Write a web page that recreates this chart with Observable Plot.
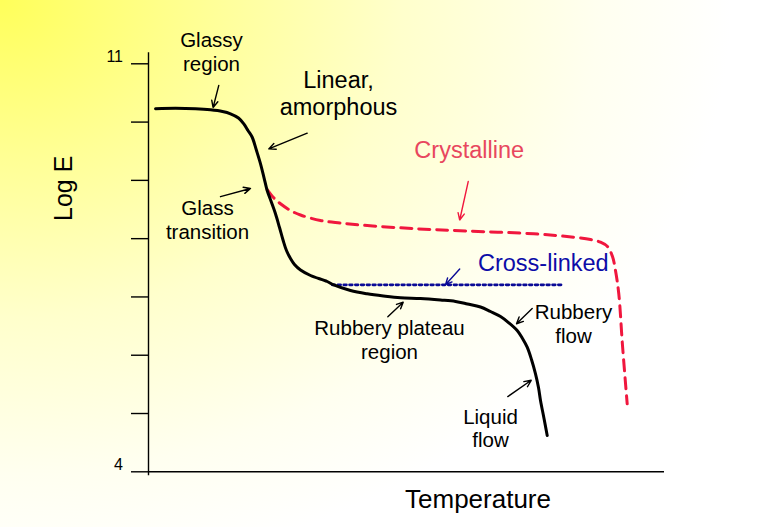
<!DOCTYPE html>
<html>
<head>
<meta charset="utf-8">
<script src="https://cdn.jsdelivr.net/npm/d3@7"></script>
<script src="https://cdn.jsdelivr.net/npm/@observablehq/plot@0.6"></script>
<style>
  html, body { margin: 0; padding: 0; }
  body {
    width: 770px; height: 527px; overflow: hidden;
    background: radial-gradient(ellipse 95% 110% at 0% 0%, #ffff5a 0%, #ffff96 28%, #ffffcc 55%, #fffff0 82%, #ffffff 100%);
    font-family: "Liberation Sans", Arial, sans-serif;
  }
</style>
</head>
<body>
<div id="chart"></div>
<script>
// ---- Data (Temperature in arbitrary units 0–100, Log E) ----
const amorphousT = [1.36, 5.23, 9.11, 12.02, 14.34, 15.89, 17.44, 18.47, 19.28, 20.10, 20.93, 21.71, 22.38, 23.00, 23.84, 24.61, 25.39, 26.10, 26.74, 27.52, 28.29, 29.46, 31.40, 34.63, 35.91, 39.15, 42.38, 45.54, 48.84, 52.71, 56.59, 59.50, 61.82, 64.34, 66.28, 68.22, 69.77, 71.45, 72.48, 73.39, 74.22, 75.00, 75.58, 75.97, 76.65, 77.27];
const amorphousLogE = [10.228, 10.236, 10.228, 10.210, 10.181, 10.142, 10.070, 9.970, 9.855, 9.740, 9.512, 9.284, 9.049, 8.826, 8.620, 8.426, 8.191, 7.968, 7.797, 7.659, 7.556, 7.462, 7.368, 7.265, 7.205, 7.110, 7.054, 7.016, 6.985, 6.973, 6.947, 6.922, 6.879, 6.827, 6.750, 6.664, 6.561, 6.424, 6.287, 6.138, 5.927, 5.681, 5.446, 5.223, 4.914, 4.623];

const crystallineT = [23.00, 24.22, 25.58, 27.52, 29.46, 33.33, 37.21, 42.38, 52.07, 61.76, 74.67, 82.42, 85.66, 87.60, 88.95, 89.92, 90.50, 91.14, 91.86, 92.77];
const crystallineLogE = [8.843, 8.706, 8.598, 8.483, 8.406, 8.311, 8.268, 8.225, 8.169, 8.131, 8.083, 8.025, 7.985, 7.939, 7.865, 7.694, 7.453, 7.054, 6.167, 5.167];

const crossLinkedT = [35.6, 80.5];
const crossLinkedLogE = [7.208, 7.208];

const yTicks = [4, 5, 6, 7, 8, 9, 10, 11];
const yTickLabels = ["4", "", "", "", "", "", "", "11"];

// Annotations: text, x, y
const smallNoteText = ["Glassy\nregion", "Glass\ntransition", "Rubbery plateau\nregion", "Rubbery\nflow", "Liquid\nflow"];
const smallNoteX = [12.21, 11.43, 46.71, 82.36, 66.28];
const smallNoteY = [11.209, 8.328, 6.266, 6.544, 4.751];

const bigNoteText = ["Linear,\namorphous"];
const bigNoteX = [36.82];
const bigNoteY = [10.504];

const crystallineLabel = ["Crystalline"], crystallineLabelX = [62.15], crystallineLabelY = [9.521];
const crossLinkedLabel = ["Cross-linked"], crossLinkedLabelX = [76.51], crossLinkedLabelY = [7.577];

const xAxisLabel = ["Temperature"], xAxisLabelX = [63.86];
const yAxisLabel = ["Log E"], yAxisLabelY = [8.863];

// Arrows (from -> to)
const blackArrowX1 = [13.62, 30.76, 13.95, 46.38, 74.36, 69.63];
const blackArrowY1 = [10.63, 9.81, 8.72, 6.66, 6.80, 5.29];
const blackArrowX2 = [12.52, 23.31, 19.77, 49.36, 71.32, 74.17];
const blackArrowY2 = [10.25, 9.54, 8.86, 6.91, 6.54, 5.57];
const redArrow = {x1: [61.96], y1: [8.98], x2: [60.31], y2: [8.32]};
const blueArrow = {x1: [60.31], y1: [7.48], x2: [57.56], y2: [7.21]};

// ---- Build tables ----
const amorphous = amorphousT.map((t, i) => ({t, e: amorphousLogE[i]}));
const crystalline = crystallineT.map((t, i) => ({t, e: crystallineLogE[i]}));
const crossLinked = crossLinkedT.map((t, i) => ({t, e: crossLinkedLogE[i]}));
const smallNotes = smallNoteText.map((text, i) => ({text, x: smallNoteX[i], y: smallNoteY[i]}));
const bigNotes = bigNoteText.map((text, i) => ({text, x: bigNoteX[i], y: bigNoteY[i]}));
const blackArrows = blackArrowX1.map((x1, i) => ({x1, y1: blackArrowY1[i], x2: blackArrowX2[i], y2: blackArrowY2[i]}));
const toRows = o => o.x1.map((x1, i) => ({x1, y1: o.y1[i], x2: o.x2[i], y2: o.y2[i]}));
const tickRows = yTicks.map((v, i) => ({v, label: yTickLabels[i]}));

const FONT = "'Liberation Sans', Arial, sans-serif";
const RED = "#f0173e";
const BLUE = "#0a0a96";

const chart = Plot.plot({
  width: 770,
  height: 527,
  marginLeft: 148,
  marginRight: 106,
  marginTop: 63.3,
  marginBottom: 55.7,
  style: {background: "transparent", fontFamily: FONT, overflow: "visible", color: "#000"},
  x: {domain: [0, 100], axis: null},
  y: {domain: [4, 11], axis: null},
  marks: [
    // axes
    Plot.ruleX([0], {stroke: "#000", strokeWidth: 1.4, insetTop: -11, insetBottom: -4}),
    Plot.ruleY([4], {stroke: "#000", strokeWidth: 1.4}),
    Plot.axisY({ticks: yTicks, tickSize: 17, fill: "none", stroke: "#000", strokeWidth: 1.4, label: null}),
    Plot.text(tickRows, {y: "v", text: "label", frameAnchor: "left", dx: -25.5, dy: -6.5, textAnchor: "end", lineAnchor: "middle", fontSize: 16, fill: "#000"}),
    Plot.text(xAxisLabel, {x: xAxisLabelX, text: d => d, frameAnchor: "bottom", dy: 28, textAnchor: "middle", lineAnchor: "middle", fontSize: 26, fill: "#000"}),
    Plot.text(yAxisLabel, {y: yAxisLabelY, text: d => d, frameAnchor: "left", dx: -85, rotate: -90, textAnchor: "middle", lineAnchor: "middle", fontSize: 25, fill: "#000"}),

    // curves
    Plot.line(crossLinked, {x: "t", y: "e", stroke: BLUE, strokeWidth: 2.8, strokeDasharray: "2.6,3.2"}),
    Plot.line(crystalline, {x: "t", y: "e", stroke: RED, strokeWidth: 3, strokeDasharray: "11,7", curve: "catmull-rom"}),
    Plot.line(amorphous, {x: "t", y: "e", stroke: "#000", strokeWidth: 3, curve: "catmull-rom"}),

    // arrows
    Plot.arrow(blackArrows, {x1: "x1", y1: "y1", x2: "x2", y2: "y2", stroke: "#000", strokeWidth: 1.4, headLength: 8, headAngle: 50}),
    Plot.arrow(toRows(redArrow), {x1: "x1", y1: "y1", x2: "x2", y2: "y2", stroke: RED, strokeWidth: 1.4, headLength: 8, headAngle: 50}),
    Plot.arrow(toRows(blueArrow), {x1: "x1", y1: "y1", x2: "x2", y2: "y2", stroke: BLUE, strokeWidth: 1.4, headLength: 8, headAngle: 50}),

    // annotations
    Plot.text(smallNotes, {x: "x", y: "y", text: "text", fontSize: 20.5, lineHeight: 1.15, fill: "#000"}),
    Plot.text(bigNotes, {x: "x", y: "y", text: "text", fontSize: 23.5, lineHeight: 1.16, fill: "#000"}),
    Plot.text(crystallineLabel, {x: crystallineLabelX, y: crystallineLabelY, text: d => d, fontSize: 23.5, fill: "#e8475e"}),
    Plot.text(crossLinkedLabel, {x: crossLinkedLabelX, y: crossLinkedLabelY, text: d => d, fontSize: 23.5, fill: "#0c0ca8"})
  ]
});
document.getElementById("chart").appendChild(chart);
</script>
</body>
</html>
